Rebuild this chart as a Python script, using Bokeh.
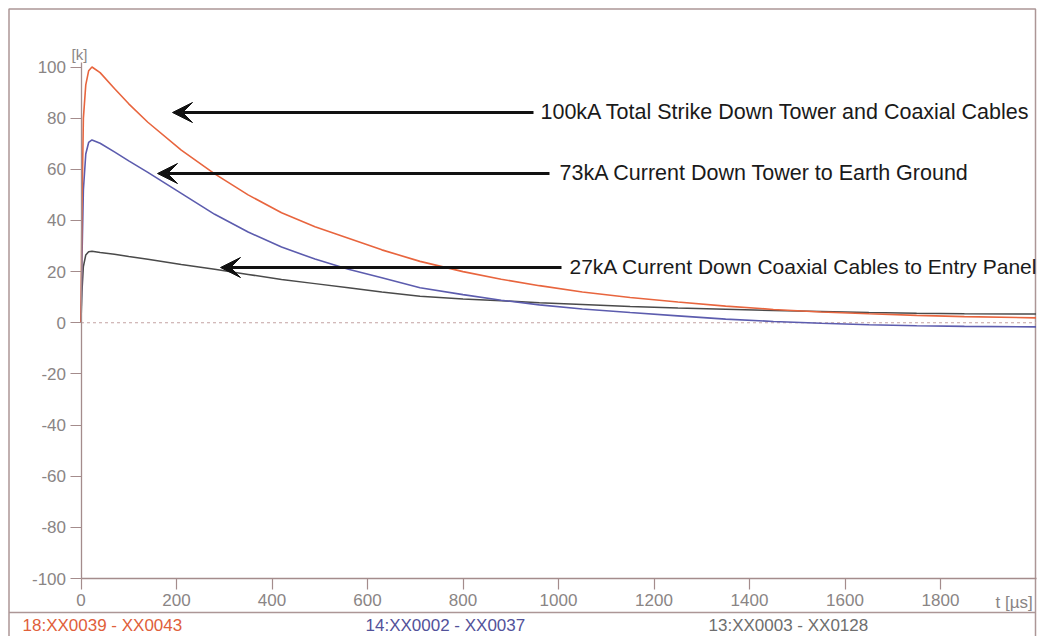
from bokeh.plotting import figure
from bokeh.models import Label, Arrow, VeeHead, FixedTicker, Range1d
from bokeh.embed import file_html
from bokeh.resources import INLINE

# ---------------- data ----------------
t_us = [0, 2, 5, 10, 16, 23, 40, 70, 100, 140, 210, 280, 350, 420, 490, 560, 630,
        710, 800, 880, 960, 1050, 1150, 1250, 1350, 1450, 1550, 1650, 1750, 1850, 2000]
total_strike = [0, 45, 80, 93, 98.5, 100, 97.8, 91.6, 85.6, 78.4, 67.5, 58.2, 50, 43, 37.5, 33, 28.5,
                24, 20, 17, 14.5, 12, 9.9, 8.1, 6.5, 5.2, 4.2, 3.5, 2.9, 2.4, 1.9]
tower_current = [0, 25, 52, 66, 70.5, 71.5, 70.2, 66.8, 63.3, 58.8, 50.6, 42.4, 35.5, 29.6, 24.9, 20.9, 17.6,
                 13.7, 11, 8.8, 7.0, 5.4, 4.0, 2.7, 1.4, 0.5, -0.2, -0.8, -1.2, -1.4, -1.6]
coax_current = [0, 12, 22, 26.5, 27.8, 28, 27.5, 26.8, 25.9, 24.8, 22.8, 20.9, 18.9, 16.9, 15.3, 13.7, 12.0,
                10.4, 9.3, 8.6, 7.8, 7.1, 6.4, 5.8, 5.3, 4.8, 4.4, 4.0, 3.7, 3.5, 3.4]

x_ticks = [0, 200, 400, 600, 800, 1000, 1200, 1400, 1600, 1800]
y_ticks = [-100, -80, -60, -40, -20, 0, 20, 40, 60, 80, 100]
x_end = 2000

annotations = [
    "100kA Total Strike Down Tower and Coaxial Cables",
    "73kA Current Down Tower to Earth Ground",
    "27kA Current Down Coaxial Cables to Entry Panel",
]
channel_names = ["18:XX0039 - XX0043", "14:XX0002 - XX0037", "13:XX0003 - XX0128"]

# ---------------- layout helpers (page pixel -> data) ----------------
W, H = 1044, 636
PX_X0, PX_PER_X = 80.5, 0.4775      # pixel of t=0, pixels per µs
PX_Y0, PX_PER_Y = 322.25, 2.5575    # pixel of 0 kA, pixels per kA


def dx(px):
    return (px - PX_X0) / PX_PER_X


def dy(py):
    return (PX_Y0 - py) / PX_PER_Y


RED = "#e8653e"
BLUE = "#5c5cae"
DARK = "#4a4a4a"
AXIS = "#a48c8c"
FRAME = "#ac9696"
TICKTXT = "#8a8585"
FONT = "Liberation Sans"

p = figure(width=W, height=H, x_range=Range1d(dx(0), dx(W)), y_range=Range1d(dy(H), dy(0)),
           output_backend="svg", toolbar_location=None, min_border=0)
p.outline_line_color = None
p.grid.visible = False
p.background_fill_color = "white"
p.border_fill_color = "white"

p.xaxis.ticker = FixedTicker(ticks=x_ticks)
p.yaxis.ticker = FixedTicker(ticks=y_ticks)
p.xaxis.fixed_location = y_ticks[0]
p.yaxis.fixed_location = x_ticks[0]
p.xaxis.bounds = (x_ticks[0], x_end)
p.yaxis.bounds = (y_ticks[0], dy(62))
p.yaxis.major_label_overrides = {v: str(v) for v in y_ticks}
for ax in (p.xaxis[0], p.yaxis[0]):
    ax.axis_line_color = AXIS
    ax.axis_line_width = 1.3
    ax.major_tick_line_color = AXIS
    ax.major_tick_line_width = 1.2
    ax.minor_tick_line_color = None
    ax.major_tick_in = 0
    ax.major_tick_out = 11
    ax.major_label_text_color = TICKTXT
    ax.major_label_text_font = FONT
    ax.major_label_text_font_size = "17px"
p.xaxis.major_label_standoff = 4
p.yaxis.major_label_standoff = 4

# outer frame and channel row separator
p.line([dx(8.5), dx(8.5), dx(1035), dx(1035)], [dy(640), dy(8.5), dy(8.5), dy(640)],
       line_color=FRAME, line_width=1.5)
p.line([dx(8.5), dx(1035)], [dy(612), dy(612)], line_color=FRAME, line_width=1.3)

# zero line
p.line([x_ticks[0], x_end], [0, 0], line_color="#c4a2a2", line_dash="3 3", line_width=1.2)

# curves
p.line(t_us, coax_current, line_color=DARK, line_width=1.5)
p.line(t_us, tower_current, line_color=BLUE, line_width=1.6)
p.line(t_us, total_strike, line_color=RED, line_width=1.6)

# arrows + annotation texts (page pixels: tail x, tip x, y, text x, font size)
arrow_px = [(533, 172, 112, 540, "21.5px"), (549, 157, 173, 559, "21.5px"),
            (561, 220, 267, 569, "21px")]
for (xt, xh, ya, tx, fs), txt in zip(arrow_px, annotations):
    p.add_layout(Arrow(end=VeeHead(size=20, fill_color="#111111", line_color="#111111"),
                       x_start=dx(xt), y_start=dy(ya), x_end=dx(xh), y_end=dy(ya),
                       line_color="#111111", line_width=3))
    p.add_layout(Label(x=dx(tx), y=dy(ya - 1), text=txt, text_font=FONT, text_font_size=fs,
                       text_color="#1a1a1a", text_baseline="alphabetic", text_align="left"))

# axis unit labels
p.add_layout(Label(x=dx(79), y=dy(53.5), text="[k]", text_font=FONT, text_font_size="15px",
                   text_color=TICKTXT, text_align="center", text_baseline="middle"))
p.add_layout(Label(x=dx(995), y=dy(602), text="t [µs]", text_font=FONT, text_font_size="17px",
                   text_color=TICKTXT, text_align="left", text_baseline="middle"))

# channel names row
chan_px = [22, 365, 708]
chan_col = ["#e0603a", "#52529a", "#6e6e6e"]
for cx, cc, name in zip(chan_px, chan_col, channel_names):
    p.add_layout(Label(x=dx(cx), y=dy(625), text=name, text_font=FONT, text_font_size="17px",
                       text_color=cc, text_align="left", text_baseline="middle"))

open("out.html", "w").write(file_html(p, INLINE))
